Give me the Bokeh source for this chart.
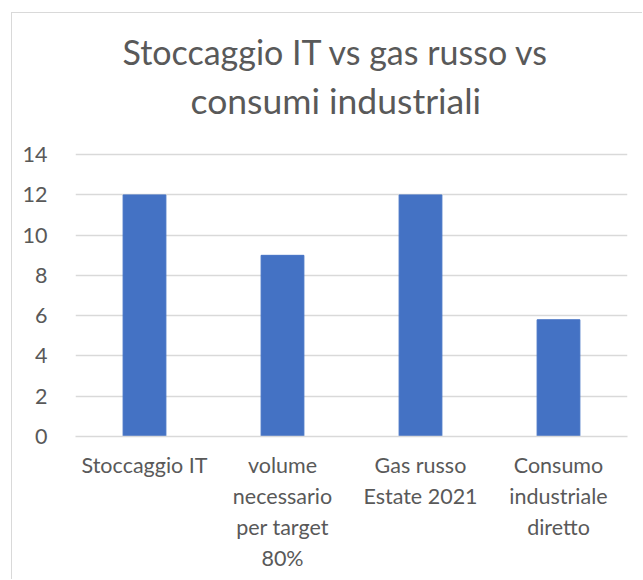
from bokeh.plotting import figure
from bokeh.models import Title, FactorRange, ColumnDataSource
from bokeh.embed import file_html
from bokeh.resources import INLINE

# ---- data ----
categories = ["Stoccaggio IT", "volume\nnecessario\nper target\n80%",
              "Gas russo\nEstate 2021", "Consumo\nindustriale\ndiretto"]
values = [12, 9, 12, 5.8]
y_ticks = [0, 2, 4, 6, 8, 10, 12, 14]
title_line1 = "Stoccaggio IT vs gas russo vs"
title_line2 = "consumi industriali"

FONT = "Lato"
GREY_TEXT = "#595959"
GRID = "#d9d9d9"
BAR = "#4472C4"

src = ColumnDataSource(data=dict(cat=categories, val=values))

p = figure(x_range=FactorRange(*categories), y_range=(0, 15.5),
           width=631, height=567, output_backend="svg", toolbar_location=None,
           min_border_left=63, min_border_right=16, min_border_top=111,
           min_border_bottom=144)
# chart-area border (only its left/top edges fall inside the window)
p.styles = {"margin-left": "11px", "margin-top": "12px",
            "border-left": "1px solid #d9d9d9", "border-top": "1px solid #d9d9d9"}
p.outline_line_color = None
p.background_fill_color = "white"
p.border_fill_color = "white"

p.vbar(x="cat", top="val", width=0.31, source=src, color=BAR, line_color=BAR)

# titles (line 2 first: closest to frame)
t2 = Title(text=title_line2, align="left", offset=115, text_font=FONT,
           text_font_size="35.5px", text_font_style="normal", text_color=GREY_TEXT,
           standoff=6)
t1 = Title(text=title_line1, align="left", offset=47, text_font=FONT,
           text_font_size="34px", text_font_style="normal", text_color=GREY_TEXT,
           standoff=4)
p.add_layout(t2, "above")
p.add_layout(t1, "above")

# axes
p.yaxis.ticker = y_ticks
p.yaxis.axis_line_color = None
p.yaxis.major_tick_line_color = None
p.yaxis.minor_tick_line_color = None
p.yaxis.major_label_standoff = 22
p.yaxis.major_label_text_font = FONT
p.yaxis.major_label_text_font_size = "21.5px"
p.yaxis.major_label_text_color = GREY_TEXT

p.xaxis.axis_line_color = GRID
p.xaxis.axis_line_width = 1.5
p.xaxis.major_tick_line_color = None
p.xaxis.minor_tick_line_color = None
p.xaxis.major_label_standoff = 9
p.xaxis.major_label_text_font = FONT
p.xaxis.major_label_text_font_size = "21.5px"
p.xaxis.major_label_text_color = GREY_TEXT
p.xaxis.major_label_text_line_height = 1.2
p.xaxis.major_label_orientation = "horizontal"

p.xgrid.grid_line_color = None
p.ygrid.grid_line_color = GRID
p.ygrid.grid_line_width = 1.5
p.x_range.range_padding = 0
p.x_range.factor_padding = 0

open("out.html", "w").write(file_html(p, INLINE))
